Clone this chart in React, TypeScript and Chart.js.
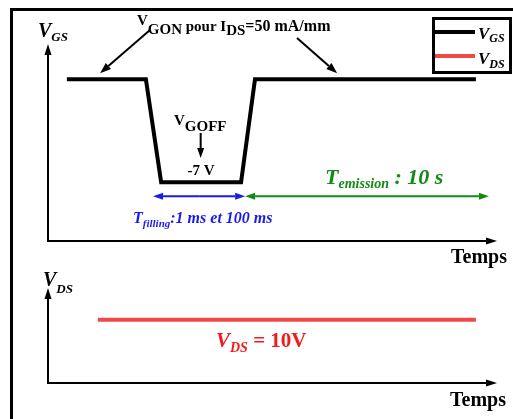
import React, { useEffect, useRef } from 'react';
import { Chart, registerables } from 'chart.js';

Chart.register(...registerables);

// ---- Data (time axis in arbitrary units 0..100, voltages in V) ----
const TIME_RANGE = [0, 100];
const VGS_TIME = [4.2, 21.8, 25.2, 43.0, 46.1, 95.3];
const VGS_VALUES = [0, 0, -7, -7, 0, 0];
const VGS_RANGE = [-11, 2.4];
const VDS_TIME = [11.1, 95.3];
const VDS_VALUES = [10, 10];
const VDS_RANGE = [0, 15];
const T_FILLING = [23.4, 43.9];
const T_EMISSION = [43.9, 98.2];
const ARROW_LEVEL = -7.95;
const VGON_TARGETS = [11.6, 64.4];
const VGOFF_TIME = 34.0;
const LABELS = {
  gs: ['V', 'GS'],
  ds: ['V', 'DS'],
  temps: 'Temps',
};

const SERIF = '"Liberation Serif", "DejaVu Serif", serif';
const BLACK = '#000000';
const RED_LINE = '#f04848';
const RED_TEXT = '#f21b1b';
const GREEN = '#138a13';
const BLUE = '#1a1aef';

const W = 513;
const H_TOP = 268;
const H_BOT = 151;

function arrowLine(ctx: CanvasRenderingContext2D, x1: number, y1: number, x2: number, y2: number, color: string, lw = 2, headLen = 10, headHalf = 3.5) {
  const ang = Math.atan2(y2 - y1, x2 - x1);
  const bx = x2 - headLen * Math.cos(ang);
  const by = y2 - headLen * Math.sin(ang);
  ctx.save();
  ctx.strokeStyle = color;
  ctx.fillStyle = color;
  ctx.lineWidth = lw;
  ctx.beginPath();
  ctx.moveTo(x1, y1);
  ctx.lineTo(bx, by);
  ctx.stroke();
  ctx.beginPath();
  ctx.moveTo(x2, y2);
  ctx.lineTo(bx + headHalf * Math.sin(ang), by - headHalf * Math.cos(ang));
  ctx.lineTo(bx - headHalf * Math.sin(ang), by + headHalf * Math.cos(ang));
  ctx.closePath();
  ctx.fill();
  ctx.restore();
}

function doubleArrow(ctx: CanvasRenderingContext2D, x1: number, x2: number, y: number, color: string) {
  const mid = (x1 + x2) / 2;
  arrowLine(ctx, mid, y, x1, y, color, 2, 10, 3.5);
  arrowLine(ctx, mid, y, x2, y, color, 2, 10, 3.5);
}

type Piece = [string, string, number];
function drawPieces(ctx: CanvasRenderingContext2D, x: number, pieces: Piece[], color: string) {
  ctx.save();
  ctx.fillStyle = color;
  ctx.textAlign = 'left';
  ctx.textBaseline = 'alphabetic';
  let cx = x;
  for (const [t, f, y] of pieces) {
    ctx.font = f;
    ctx.fillText(t, cx, y);
    cx += ctx.measureText(t).width;
  }
  ctx.restore();
}

const bi = (s: number) => `italic bold ${s}px ${SERIF}`;
const b = (s: number) => `bold ${s}px ${SERIF}`;

const topPlugin = {
  id: 'topAnnotations',
  afterDraw(chart: any) {
    const ctx: CanvasRenderingContext2D = chart.ctx;
    const xs = chart.scales.x;
    const ys = chart.scales.y;
    const { left, right, top, bottom } = chart.chartArea;
    ctx.save();
    // outer frame
    ctx.fillStyle = BLACK;
    ctx.fillRect(10, 8, W - 10, 3);
    ctx.fillRect(10, 8, 3, H_TOP);
    // axes
    arrowLine(ctx, left, bottom + 1, left, top, BLACK, 2, 11, 3.5);
    arrowLine(ctx, left - 1, bottom, right, bottom, BLACK, 2, 11, 3.5);
    // axis labels
    drawPieces(ctx, 38, [[LABELS.gs[0], bi(20), 37], [LABELS.gs[1], bi(13), 41]], BLACK);
    ctx.fillStyle = BLACK;
    ctx.font = b(20);
    ctx.textAlign = 'right';
    ctx.fillText(LABELS.temps, 507, 263);
    ctx.textAlign = 'left';

    // VGON annotation
    drawPieces(ctx, 137, [
      ['V', b(15), 25],
      ['GON', b(15), 34],
      [' pour ', b(15), 31],
      ['I', b(15), 31],
      ['DS', b(15), 35],
      ['=50 mA/mm', b(16), 31],
    ], BLACK);
    const yHigh = ys.getPixelForValue(VGS_VALUES[0]);
    arrowLine(ctx, 150, 30, xs.getPixelForValue(VGON_TARGETS[0]), yHigh - 6, BLACK, 2, 11, 4);
    arrowLine(ctx, 297, 38, xs.getPixelForValue(VGON_TARGETS[1]), yHigh - 6, BLACK, 2, 11, 4);

    // VGOFF annotation
    const xOff = xs.getPixelForValue(VGOFF_TIME);
    drawPieces(ctx, 174, [['V', b(15), 125], ['GOFF', b(15), 131]], BLACK);
    arrowLine(ctx, xOff, 133, xOff, 158, BLACK, 2, 10, 3.5);
    ctx.fillStyle = BLACK;
    ctx.font = b(15);
    ctx.textAlign = 'center';
    ctx.fillText('-7 V', xOff + 0.5, 175);
    ctx.textAlign = 'left';

    // time arrows
    const ya = ys.getPixelForValue(ARROW_LEVEL);
    doubleArrow(ctx, xs.getPixelForValue(T_FILLING[0]), xs.getPixelForValue(T_FILLING[1]), ya, BLUE);
    doubleArrow(ctx, xs.getPixelForValue(T_EMISSION[0]), xs.getPixelForValue(T_EMISSION[1]), ya, GREEN);
    drawPieces(ctx, 325, [['T', bi(22), 184], ['emission', bi(14), 188], [' : 10 s', bi(22), 184]], GREEN);
    drawPieces(ctx, 133, [['T', bi(16), 223], ['filling', bi(11), 227], [':1 ms et 100 ms', bi(16), 223]], BLUE);

    // legend box
    ctx.strokeStyle = BLACK;
    ctx.lineWidth = 3;
    ctx.strokeRect(433.5, 18.5, 77, 54);
    ctx.fillStyle = BLACK;
    ctx.fillRect(435, 30, 40, 4);
    ctx.fillStyle = RED_LINE;
    ctx.fillRect(435, 54, 40, 4);
    drawPieces(ctx, 478, [[LABELS.gs[0], bi(17), 39], [LABELS.gs[1], bi(12), 42]], BLACK);
    drawPieces(ctx, 478, [[LABELS.ds[0], bi(17), 64], [LABELS.ds[1], bi(12), 68]], BLACK);
    ctx.restore();
  },
};

const botPlugin = {
  id: 'botAnnotations',
  afterDraw(chart: any) {
    const ctx: CanvasRenderingContext2D = chart.ctx;
    const { left, right, top, bottom } = chart.chartArea;
    ctx.save();
    ctx.fillStyle = BLACK;
    ctx.fillRect(10, 0, 3, H_BOT);
    arrowLine(ctx, left, bottom + 1, left, top, BLACK, 2, 11, 3.5);
    arrowLine(ctx, left - 1, bottom, right, bottom, BLACK, 2, 11, 3.5);
    drawPieces(ctx, 43, [[LABELS.ds[0], bi(20), 18], [LABELS.ds[1], bi(13), 25]], BLACK);
    ctx.fillStyle = BLACK;
    ctx.font = b(20);
    ctx.textAlign = 'right';
    ctx.fillText(LABELS.temps, 506, 138);
    ctx.textAlign = 'left';
    drawPieces(ctx, 216, [['V', bi(21), 79], ['DS', bi(14), 84], [' = 10V', b(21), 79]], RED_TEXT);
    ctx.restore();
  },
};

function baseOptions(padding: any, yRange: number[]) {
  return {
    responsive: false,
    animation: false as const,
    devicePixelRatio: 1,
    events: [],
    layout: { padding },
    scales: {
      x: { type: 'linear' as const, min: TIME_RANGE[0], max: TIME_RANGE[1], display: false },
      y: { type: 'linear' as const, min: yRange[0], max: yRange[1], display: false },
    },
    plugins: { legend: { display: false }, tooltip: { enabled: false } },
  };
}

export default function App() {
  const topRef = useRef<HTMLCanvasElement | null>(null);
  const botRef = useRef<HTMLCanvasElement | null>(null);

  useEffect(() => {
    const top = new Chart(topRef.current as HTMLCanvasElement, {
      type: 'line',
      data: {
        datasets: [
          {
            label: 'VGS',
            data: VGS_TIME.map((t, i) => ({ x: t, y: VGS_VALUES[i] })),
            borderColor: BLACK,
            borderWidth: 4,
            pointRadius: 0,
            tension: 0,
            borderJoinStyle: 'miter',
            borderCapStyle: 'butt',
            clip: false,
          } as any,
        ],
      },
      options: baseOptions({ left: 48, right: W - 497, top: 44, bottom: H_TOP - 241 }, VGS_RANGE) as any,
      plugins: [topPlugin],
    });
    const bot = new Chart(botRef.current as HTMLCanvasElement, {
      type: 'line',
      data: {
        datasets: [
          {
            label: 'VDS',
            data: VDS_TIME.map((t, i) => ({ x: t, y: VDS_VALUES[i] })),
            borderColor: RED_LINE,
            borderWidth: 4,
            pointRadius: 0,
            tension: 0,
            borderCapStyle: 'butt',
            clip: false,
          } as any,
        ],
      },
      options: baseOptions({ left: 48, right: W - 497, top: 20, bottom: H_BOT - 115 }, VDS_RANGE) as any,
      plugins: [botPlugin],
    });
    return () => {
      top.destroy();
      bot.destroy();
    };
  }, []);

  return (
    <div style={{ position: 'absolute', left: 0, top: 0, width: W, height: H_TOP + H_BOT, background: '#fff', overflow: 'hidden' }}>
      <canvas ref={topRef} width={W} height={H_TOP} style={{ display: 'block', width: W, height: H_TOP }} />
      <canvas ref={botRef} width={W} height={H_BOT} style={{ display: 'block', width: W, height: H_BOT }} />
    </div>
  );
}
